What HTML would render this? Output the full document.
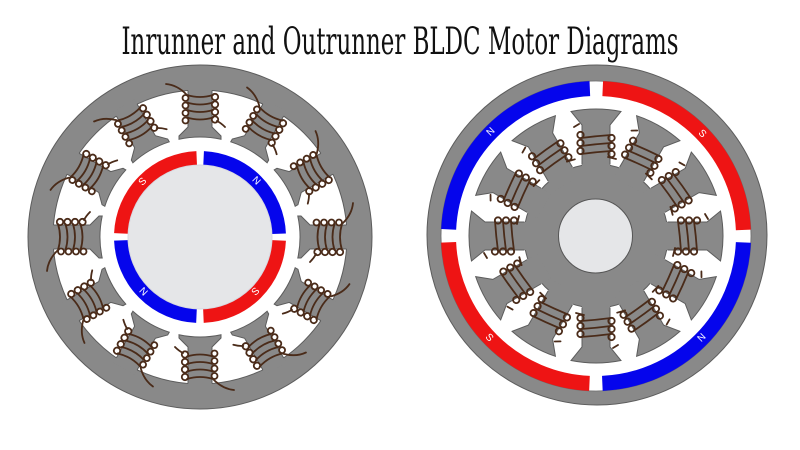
<!DOCTYPE html>
<html>
<head>
<meta charset="utf-8">
<style>
html,body{margin:0;padding:0;background:#fff;width:800px;height:450px;overflow:hidden}
svg{display:block}
</style>
</head>
<body>
<svg width="800" height="450" viewBox="0 0 800 450" xmlns="http://www.w3.org/2000/svg">
<defs>
  <g id="ltooth">
    <path d="M-12,-152 L-12,-110 L-21,-101 L-21,-97.8 A100,100 0 0 1 21,-97.8 L21,-101 L12,-110 L12,-152 Z" fill="#898989"/>
    <path d="M-12,-146.5 L-12,-110 L-21,-101 L-21,-97.8 A100,100 0 0 1 21,-97.8 L21,-101 L12,-110 L12,-146.5" fill="none" stroke="#5c5c5c" stroke-width="1"/>
    <g fill="none" stroke="#4a2b19" stroke-width="1.8" stroke-linecap="round">
      <path d="M-13,-142 Q0,-138 13,-142 M-13,-134.5 Q0,-130.5 13,-134.5 M-13,-127 Q0,-123 13,-127 M-13,-119.5 Q0,-115.5 13,-119.5"/>
      <circle cx="-14.5" cy="-139" r="3"/>
      <circle cx="-14.5" cy="-131.5" r="3"/>
      <circle cx="-14.5" cy="-124" r="3"/>
      <circle cx="-14.5" cy="-116.5" r="3"/>
      <circle cx="15" cy="-140" r="3.2"/>
      <circle cx="15" cy="-132.5" r="3.2"/>
      <circle cx="15" cy="-125" r="3.2"/>
      <circle cx="15" cy="-117.5" r="3.2"/>
      <path d="M-34,-153 Q-23,-152 -14,-143 M17,-116 Q21,-114 25,-110"/>
    </g>
  </g>
  <g id="rtooth">
    <path d="M-14,-60 L-14,-111 L-25,-124.5 A127,127 0 0 1 25,-124.5 L14,-111 L14,-60 Z" fill="#898989"/>
    <path d="M-14,-71.5 L-14,-111 L-25,-124.5 A127,127 0 0 1 25,-124.5 L14,-111 L14,-71.5" fill="none" stroke="#5c5c5c" stroke-width="1"/>
    <g fill="none" stroke="#4a2b19" stroke-width="1.8" stroke-linecap="round">
      <path d="M-15,-98 Q0,-100 15,-101 M-15,-90 Q0,-92 15,-93 M-15,-82 Q0,-84 15,-85"/>
      <circle cx="-15.5" cy="-101" r="3.2"/>
      <circle cx="-15.5" cy="-93" r="3.2"/>
      <circle cx="-15.5" cy="-85" r="3.2"/>
      <circle cx="15.5" cy="-98" r="3.2"/>
      <circle cx="15.5" cy="-90" r="3.2"/>
      <circle cx="15.5" cy="-82" r="3.2"/>
      <path d="M-22,-109 L-17,-112 M12,-79 L20,-77"/>
    </g>
  </g>
</defs>

<!-- Title -->
<text x="400" y="54" text-anchor="middle" font-family="'DejaVu Serif','Liberation Serif',serif" font-stretch="condensed" font-size="37" fill="#111" textLength="557" lengthAdjust="spacingAndGlyphs">Inrunner and Outrunner BLDC Motor Diagrams</text>

<!-- LEFT: Inrunner -->
<circle cx="200" cy="237" r="172" fill="#898989" stroke="#5c5c5c" stroke-width="1"/>
<circle cx="200" cy="237" r="147" fill="#ffffff" stroke="#5c5c5c" stroke-width="1"/>
<g transform="translate(200,237)">
  <use href="#ltooth" transform="rotate(0)"/>
  <use href="#ltooth" transform="rotate(30)"/>
  <use href="#ltooth" transform="rotate(60)"/>
  <use href="#ltooth" transform="rotate(90)"/>
  <use href="#ltooth" transform="rotate(120)"/>
  <use href="#ltooth" transform="rotate(150)"/>
  <use href="#ltooth" transform="rotate(180)"/>
  <use href="#ltooth" transform="rotate(210)"/>
  <use href="#ltooth" transform="rotate(240)"/>
  <use href="#ltooth" transform="rotate(270)"/>
  <use href="#ltooth" transform="rotate(300)"/>
  <use href="#ltooth" transform="rotate(330)"/>
</g>
<!-- rotor magnets -->
<circle cx="200" cy="237" r="79" fill="none" stroke="#ee1414" stroke-width="14" stroke-dasharray="117.09 131.1" stroke-dashoffset="-3.5"/>
<circle cx="200" cy="237" r="79" fill="none" stroke="#0505ec" stroke-width="14" stroke-dasharray="117.09 131.1" stroke-dashoffset="-127.59"/>
<circle cx="200" cy="237" r="72" fill="#e5e6e8" stroke="#d8d8e0" stroke-width="1"/>
<g font-family="'Liberation Sans',sans-serif" font-size="10" fill="#ffffff" text-anchor="middle" dominant-baseline="central">
  <text transform="translate(143,182) rotate(-45)">S</text>
  <text transform="translate(256,181) rotate(45)">N</text>
  <text transform="translate(143,292) rotate(45)">N</text>
  <text transform="translate(256,292) rotate(-45)">S</text>
</g>

<!-- RIGHT: Outrunner -->
<circle cx="597" cy="235" r="170" fill="#898989" stroke="#5c5c5c" stroke-width="1"/>
<circle cx="596" cy="236" r="155" fill="#ffffff" stroke="#6a6a6a" stroke-width="0.8"/>
<circle cx="596" cy="236" r="147.5" fill="none" stroke="#0505ec" stroke-width="15" stroke-dasharray="218.69 244.7" stroke-dashoffset="-6.5"/>
<circle cx="596" cy="236" r="147.5" fill="none" stroke="#ee1414" stroke-width="15" stroke-dasharray="218.69 244.7" stroke-dashoffset="-238.19"/>
<circle cx="596" cy="236" r="72" fill="#898989" stroke="#5c5c5c" stroke-width="1"/>
<g transform="translate(596,236)">
  <use href="#rtooth" transform="rotate(0)"/>
  <use href="#rtooth" transform="rotate(30)"/>
  <use href="#rtooth" transform="rotate(60)"/>
  <use href="#rtooth" transform="rotate(90)"/>
  <use href="#rtooth" transform="rotate(120)"/>
  <use href="#rtooth" transform="rotate(150)"/>
  <use href="#rtooth" transform="rotate(180)"/>
  <use href="#rtooth" transform="rotate(210)"/>
  <use href="#rtooth" transform="rotate(240)"/>
  <use href="#rtooth" transform="rotate(270)"/>
  <use href="#rtooth" transform="rotate(300)"/>
  <use href="#rtooth" transform="rotate(330)"/>
</g>
<circle cx="595.5" cy="236" r="37" fill="#e5e6e8" stroke="#555" stroke-width="1"/>
<g font-family="'Liberation Sans',sans-serif" font-size="10" fill="#ffffff" text-anchor="middle" dominant-baseline="central">
  <text transform="translate(491,132) rotate(-45)">N</text>
  <text transform="translate(702,134) rotate(45)">S</text>
  <text transform="translate(489,338) rotate(45)">S</text>
  <text transform="translate(702,338) rotate(-45)">N</text>
</g>
</svg>
</body>
</html>
